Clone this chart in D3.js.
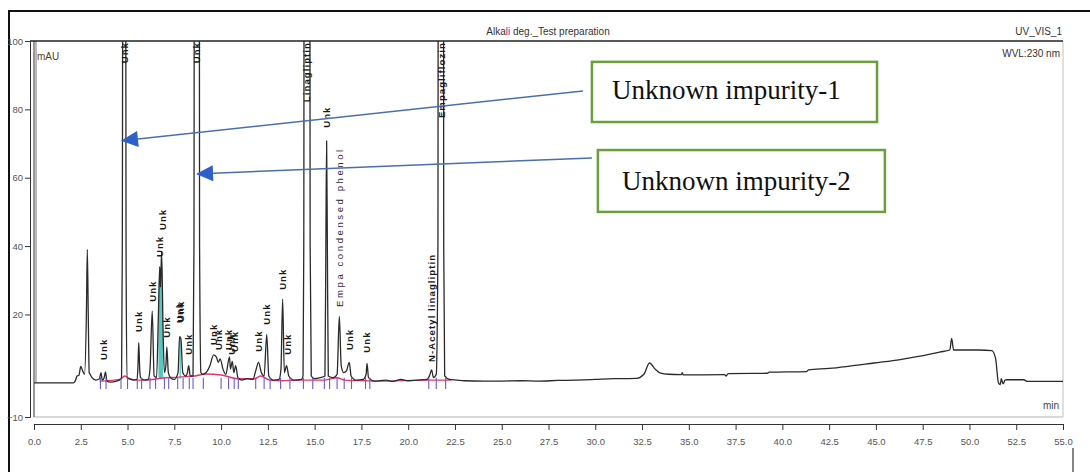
<!DOCTYPE html>
<html><head><meta charset="utf-8">
<script src="https://cdn.jsdelivr.net/npm/d3@7"></script>
<style>html,body{margin:0;padding:0;background:#fff;} svg{display:block;}</style>
</head><body>
<svg id="c" width="1090" height="472"></svg>
<script>
// ---------------- data ----------------
const xTickValues = d3.range(0, 55.01, 2.5);
const xMinorTicks = d3.range(0, 55.01, 0.5);
const yTickValues = [-10, 20, 40, 60, 80, 100];
const yMinorTicks = d3.range(-10, 100.01, 5);

const titleText = "Alkali deg._Test preparation";
const channelText = "UV_VIS_1";
const wavelengthText = "WVL:230 nm";
const yUnitText = "mAU";
const xUnitText = "min";

// chromatogram trace [time (min), signal (mAU)]
const tracePoints = [
 [0,0],[2.1,0],[2.2,0.5],[2.3,2],[2.4,2.2],[2.5,4.8],[2.6,3.5],[2.7,2.5],[2.8,20],[2.85,39],[2.9,20],[2.95,3],[3.0,2.5],[3.1,1.5],[3.3,0.8],[3.5,1.2],[3.58,3.0],[3.65,0.8],[3.75,1.5],[3.82,3.2],[3.9,0.5],[4.1,0.2],[4.4,0.5],[4.6,1.0],
 [4.68,1.5],[4.72,40],[4.8,400],[4.84,400],[4.92,40],[4.97,1.2],[5.05,1.2],[5.3,0.8],[5.5,1.0],[5.55,4],[5.6,11.8],[5.65,4],[5.7,1.5],[5.9,0.8],[6.1,1.0],[6.2,4],[6.32,21],[6.42,2],[6.55,1.5],[6.65,20],[6.72,34],[6.76,28],[6.82,38.4],[6.9,15],[6.97,3],[7.05,5],[7.1,10.5],[7.18,3],[7.3,1.5],[7.5,1.0],[7.7,3],[7.78,13.5],[7.85,13],[7.95,3],[8.1,2],[8.2,3],[8.27,5],[8.35,2],[8.5,2],
 [8.55,40],[8.6,400],[8.8,400],[8.85,40],[8.92,3],[9.0,2.5],[9.2,3],[9.4,5],[9.6,8.2],[9.75,7.5],[9.85,6],[9.95,7],[10.1,4],[10.25,2.5],[10.45,7.6],[10.5,4],[10.6,6.3],[10.68,3],[10.78,5],[10.9,1.5],[11.1,0.8],[11.4,1.2],[11.7,1.0],[11.85,3.5],[12.0,6],[12.15,3],[12.3,2],[12.44,14.2],[12.55,2],[12.8,0.8],[13.1,1.0],[13.2,4],[13.29,24.5],[13.38,3],[13.5,5],[13.62,2],[13.9,0.8],[14.3,1.0],
 [14.38,2],[14.42,40],[14.47,400],[14.7,400],[14.76,40],[14.82,2],[15.0,1.2],[15.3,1.5],[15.55,2],[15.6,40],[15.64,70.8],[15.68,40],[15.73,2],[16.0,1.5],[16.2,2.5],[16.32,19.4],[16.42,5],[16.55,3],[16.7,3.5],[16.85,6],[16.95,2],[17.2,0.8],[17.6,1.0],[17.75,2.5],[17.8,5.7],[17.88,1.5],[18.2,0.5],[18.8,0.8],[19.2,0.4],[19.6,1.0],[20.0,0.6],[20.5,0.8],[21.0,1.0],[21.15,2.2],[21.25,3.8],[21.35,1.5],[21.5,2.5],
 [21.59,40],[21.63,400],[21.85,400],[21.9,40],[21.95,2],[22.2,1.0],[22.6,0.8],[23,0.6],[24,0.5],[25,0.5],[26,0.6],[27,0.5],[28,0.7],[29,0.8],[30,1.0],[31,1.2],[32.2,1.3],[32.6,2.5],[32.9,5.8],[33.2,4.0],[33.5,2.8],[33.9,2.5],[34.6,2.4],[34.65,3.0],[34.7,2.3],[36.9,2.4],[37.0,2.0],[37.1,2.7],[39.2,2.8],[39.3,3.1],[41.3,3.3],[41.4,3.8],[42.5,4.2],[43.5,4.8],[44.9,5.8],[46.3,6.8],[47.35,7.8],[48.4,9.0],[48.95,9.6],[49.05,13],[49.15,9.6],[50.5,9.6],[51.2,9.4],[51.4,7],[51.55,0],[51.65,-0.5],[51.7,1.2],[51.8,-0.3],[51.9,0.8],[52.0,0.9],[52.9,0.9],[53.1,0.4],[55,0.4]
];

// integration baseline (red)
const integrationBaseline = [
 [3.5,0.5],[4.6,1.0],[4.85,2.0],[5.1,1.2],[5.5,0.8],[6.1,0.8],[6.6,1.2],[7.0,1.5],[7.6,1.6],[8.1,1.8],[8.6,2.0],[9.2,2.6],[10.0,2.3],[10.9,1.2],[11.8,1.2],[12.1,2.0],[12.6,0.8],[13.2,0.6],[14.3,0.8],[15.5,0.8],[16.2,1.5],[16.6,0.8],[17.7,0.6],[18.3,0.5],[21.0,0.8],[22.3,0.8]
];

// peak start / end delimiters (purple)
const peakMarkTimes = [3.55,3.85,4.65,5.0,5.52,5.75,6.2,6.5,6.97,7.2,7.68,7.97,8.3,8.5,9.05,10.0,10.4,10.7,10.92,11.85,12.3,12.62,13.18,13.68,14.4,14.9,15.52,15.8,16.2,16.58,16.97,17.72,17.95,21.1,21.5,22.0];

// shaded peaks [start, end]
const filledPeaks = [[6.6, 6.96], [7.72, 7.93]];

// peak labels; base = mAU at bottom of label, null = label hangs from top
const labelTimes = [3.7, 4.82, 5.6, 6.32, 6.7, 6.88, 7.1, 7.78, 7.86, 8.27, 8.7, 9.6, 9.85, 10.42, 10.58, 10.74, 12.0, 12.44, 13.29, 13.55, 14.6, 15.64, 16.32, 16.85, 17.8, 21.25, 21.78];
const labelTexts = ["Unk","Unk","Unk","Unk","Unk","Unk","Unk","Unk","Unk","Unk","Unk","Unk","Unk","Unk","Unk","Unk","Unk","Unk","Unk","Unk","Linagliptin","Unk","Empa condensed phenol","Unk","Unk","N-Acetyl linagliptin","Empagliflozin"];
const labelBases = [6.7, null, 14.9, 23.7, 36.8, 44.7, 13.2, 17.5, 17.8, 8.2, null, 11.1, 9.6, 9.6, 8.2, 9.0, 9.1, 17.0, 27.2, 8.2, null, 74.6, 22.2, 9.6, 8.8, 6.1, null];

// annotations (data coordinates)
const annotationTexts = ["Unknown impurity-1", "Unknown impurity-2"];
const arrowTails = [[29.34, 85.4], [29.82, 65.8]];
const arrowTips = [[4.65, 70.8], [8.66, 61.1]];
const boxCorners = [[29.82, 93.9, 45.06, 76.3], [30.14, 68.1, 45.48, 50.0]];

// ---------------- drawing ----------------
const svg = d3.select("#c");
const plot = {left: 34, right: 1063, top: 41, bottom: 417};
const x = d3.scaleLinear().domain([0, 55]).range([plot.left, plot.right]);
const y = d3.scaleLinear().domain([-10, 100]).range([plot.bottom, plot.top]);
const sans = "'Liberation Sans', Arial, sans-serif";
const narrow = "'Liberation Sans Narrow', 'Arial Narrow', 'Liberation Sans', Arial, sans-serif";

svg.append("rect").attr("width", 1090).attr("height", 472).attr("fill", "#fff");

// outer frame
svg.append("line").attr("x1", 9).attr("x2", 1090).attr("y1", 11).attr("y2", 11).attr("stroke", "#111").attr("stroke-width", 2);
svg.append("line").attr("x1", 9).attr("x2", 9).attr("y1", 10).attr("y2", 472).attr("stroke", "#111").attr("stroke-width", 2);
svg.append("line").attr("x1", 1073).attr("x2", 1073).attr("y1", 448).attr("y2", 472).attr("stroke", "#333").attr("stroke-width", 1.2);

// header texts
const title = svg.append("text").attr("x", 548).attr("y", 35).attr("text-anchor", "middle")
  .attr("font-family", narrow).attr("font-size", 10).attr("fill", "#333");
title.append("tspan").text(titleText.slice(0, 4));
title.append("tspan").attr("fill", "#8a2a8a").text(titleText.slice(4, 6));
title.append("tspan").text(titleText.slice(6));
svg.append("text").attr("x", 1062).attr("y", 35).attr("text-anchor", "end")
  .attr("font-family", narrow).attr("font-size", 10).attr("fill", "#333").text(channelText);
svg.append("text").attr("x", 1060).attr("y", 57).attr("text-anchor", "end")
  .attr("font-family", narrow).attr("font-size", 10).attr("fill", "#333").text(wavelengthText);
svg.append("text").attr("x", 37).attr("y", 60)
  .attr("font-family", narrow).attr("font-size", 10).attr("fill", "#5a4020").text(yUnitText);
svg.append("text").attr("x", 1059).attr("y", 409).attr("text-anchor", "end")
  .attr("font-family", narrow).attr("font-size", 10).attr("fill", "#444").text(xUnitText);

// plot box
svg.append("line").attr("x1", plot.right).attr("x2", plot.right).attr("y1", plot.top).attr("y2", plot.bottom).attr("stroke", "#ccc").attr("stroke-width", 1.2);
svg.append("line").attr("x1", plot.left).attr("x2", plot.right).attr("y1", plot.bottom).attr("y2", plot.bottom).attr("stroke", "#ccc").attr("stroke-width", 1.5);
svg.append("line").attr("x1", plot.left).attr("x2", plot.left).attr("y1", plot.top).attr("y2", plot.bottom).attr("stroke", "#555").attr("stroke-width", 1.2);
svg.append("line").attr("x1", plot.left + 2).attr("x2", plot.left + 2).attr("y1", plot.top).attr("y2", y(0)).attr("stroke", "#777").attr("stroke-width", 1);
svg.append("line").attr("x1", 30).attr("x2", plot.right).attr("y1", plot.top).attr("y2", plot.top).attr("stroke", "#222").attr("stroke-width", 1.6);

// y axis
const yAxisG = svg.append("g").attr("transform", "translate(30,0)");
yAxisG.call(d3.axisLeft(y).tickValues(yMinorTicks).tickSize(2).tickFormat(""));
yAxisG.call(d3.axisLeft(y).tickValues(yTickValues).tickSize(5).tickPadding(2).tickFormat(d3.format("d")));
yAxisG.selectAll("path").attr("stroke", "#333");
yAxisG.selectAll("line").attr("stroke", "#333");
yAxisG.selectAll("text").attr("font-family", narrow).attr("font-size", 9.5).attr("fill", "#555");

// x axis
const xAxisG = svg.append("g").attr("transform", "translate(0,424)");
xAxisG.call(d3.axisBottom(x).tickValues(xMinorTicks).tickSize(3).tickFormat("").tickSizeOuter(0));
xAxisG.call(d3.axisBottom(x).tickValues(xTickValues).tickSize(6).tickPadding(8).tickFormat(d3.format(".1f")).tickSizeOuter(0));
xAxisG.selectAll("path").attr("stroke", "#333");
xAxisG.selectAll("line").attr("stroke", "#333");
xAxisG.selectAll("text").attr("font-family", narrow).attr("font-size", 9.5).attr("fill", "#555");

// clip
svg.append("clipPath").attr("id", "clip").append("rect")
  .attr("x", plot.left).attr("y", plot.top).attr("width", plot.right - plot.left).attr("height", plot.bottom - plot.top);
const g = svg.append("g").attr("clip-path", "url(#clip)");

// filled peaks
filledPeaks.forEach(([a, b]) => {
  const pts = tracePoints.filter(p => p[0] >= a && p[0] <= b);
  g.append("path").datum(pts)
    .attr("d", d3.area().x(d => x(d[0])).y0(y(1.2)).y1(d => y(d[1])).curve(d3.curveMonotoneX))
    .attr("fill", "#3dbdb3").attr("opacity", 0.85);
});

// integration baseline
g.append("path").datum(integrationBaseline)
  .attr("d", d3.line().x(d => x(d[0])).y(d => y(d[1])).curve(d3.curveMonotoneX))
  .attr("fill", "none").attr("stroke", "#e8366a").attr("stroke-width", 1.4);

// trace
g.append("path").datum(tracePoints)
  .attr("d", d3.line().x(d => x(d[0])).y(d => y(d[1])).curve(d3.curveMonotoneX))
  .attr("fill", "none").attr("stroke", "#2a2a2a").attr("stroke-width", 1.3).attr("stroke-linejoin", "round");

// peak delimiters
g.selectAll(".pm").data(peakMarkTimes).enter().append("line")
  .attr("x1", d => x(d)).attr("x2", d => x(d))
  .attr("y1", y(1.5)).attr("y2", y(-1.8))
  .attr("stroke", "#6a5ad0").attr("stroke-width", 1.1);

// peak labels
const labelStyle = {"Empa condensed phenol": {spacing: 2.6, weight: "normal", fill: "#33263f"}};
labelTexts.forEach((txt, i) => {
  const st = labelStyle[txt] || {spacing: 1.1, weight: "bold", fill: "#1a1a1a"};
  const top = labelBases[i] === null;
  const px = x(labelTimes[i]);
  const py = top ? plot.top + 1 : y(labelBases[i]);
  svg.append("text")
    .attr("transform", `translate(${px},${py}) rotate(-90)`)
    .attr("dy", "0.35em")
    .attr("text-anchor", top ? "end" : "start")
    .attr("font-family", sans).attr("font-size", 9.5).attr("font-weight", st.weight)
    .attr("letter-spacing", st.spacing).attr("fill", st.fill)
    .text(txt);
});

// annotation arrows
arrowTails.forEach((tail, i) => {
  const tip = arrowTips[i];
  const x0 = x(tail[0]), y0 = y(tail[1]), x1 = x(tip[0]), y1 = y(tip[1]);
  const ang = Math.atan2(y1 - y0, x1 - x0);
  const L = 17, W = 8;
  const bx = x1 - L * Math.cos(ang), by = y1 - L * Math.sin(ang);
  svg.append("line").attr("x1", x0).attr("y1", y0).attr("x2", bx).attr("y2", by)
    .attr("stroke", "#4a6fae").attr("stroke-width", 1.5);
  const pts = [[x1, y1], [bx + W * Math.sin(ang), by - W * Math.cos(ang)], [bx - W * Math.sin(ang), by + W * Math.cos(ang)]];
  svg.append("polygon").attr("points", pts.map(p => p.join(",")).join(" ")).attr("fill", "#2f5fc8");
});

// annotation boxes
boxCorners.forEach((b, i) => {
  const bx0 = x(b[0]), by0 = y(b[1]), bx1 = x(b[2]), by1 = y(b[3]);
  svg.append("rect").attr("x", bx0).attr("y", by0).attr("width", bx1 - bx0).attr("height", by1 - by0)
    .attr("fill", "#fff").attr("stroke", "#6b9e3c").attr("stroke-width", 2.5);
  svg.append("text").attr("x", bx0 + 20 + i * 4).attr("y", (by0 + by1) / 2 + 7 + (i === 1 ? 2 : 0))
    .attr("font-family", "'Liberation Serif', 'Times New Roman', serif").attr("font-size", 27).attr("fill", "#111")
    .text(annotationTexts[i]);
});
</script>
</body></html>
